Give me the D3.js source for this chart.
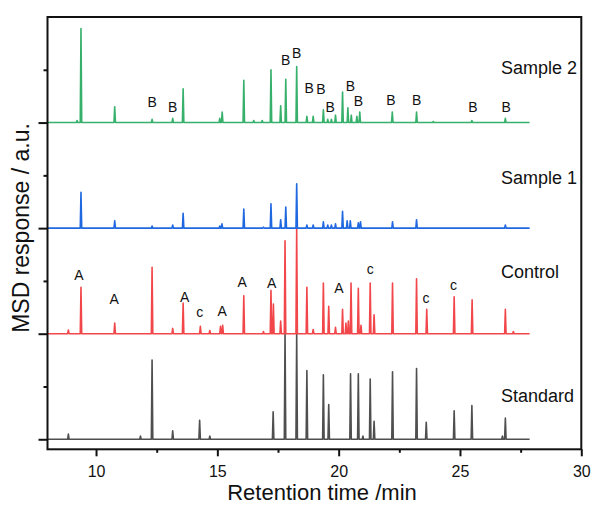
<!DOCTYPE html>
<html>
<head>
<meta charset="utf-8">
<script src="https://cdn.jsdelivr.net/npm/d3@7"></script>
<style>
  body { margin: 0; background: #fff; }
  svg text { font-family: Arial, "Liberation Sans", sans-serif; fill: #111; }
  .trace { fill: none; stroke-width: 1.6; stroke-linejoin: round; }
  .axis path, .axis line { stroke: #111; stroke-width: 2; }
</style>
</head>
<body>
<svg></svg>
<script>
// DATA: peaks as [retention time (min), height above the trace baseline]
let traceNames = ["Standard", "Control", "Sample 1", "Sample 2"];
let traceOffsets = [0, 1, 2, 3];
let traceColors = ["#4f4f4f", "#f2474a", "#2068e0", "#37b06b"];

let standardPeaks = [
  [8.86, 0.05], [11.83, 0.03], [12.31, 0.75], [13.16, 0.08], [14.27, 0.18], [14.69, 0.03],
  [17.30, 0.26], [17.79, 1.0], [18.27, 1.0], [18.69, 0.65], [19.37, 0.61], [19.59, 0.33],
  [20.49, 0.62], [20.81, 0.62], [21.00, 0.03], [21.30, 0.57], [21.46, 0.17], [22.22, 0.64],
  [23.21, 0.67], [23.61, 0.16], [24.76, 0.27], [25.49, 0.32], [26.75, 0.03], [26.87, 0.20]
];
let controlPeaks = [
  [8.86, 0.035], [9.38, 0.44], [10.77, 0.10], [12.31, 0.63], [13.16, 0.05], [13.59, 0.29],
  [14.30, 0.07], [14.69, 0.03], [15.13, 0.07], [15.22, 0.08], [16.09, 0.36], [16.90, 0.02],
  [17.21, 0.41], [17.31, 0.28], [17.61, 0.12], [17.79, 0.88], [18.27, 1.0], [18.69, 0.44],
  [18.95, 0.04], [19.37, 0.48], [19.59, 0.26], [19.87, 0.06], [20.16, 0.23], [20.30, 0.10],
  [20.40, 0.12], [20.51, 0.48], [20.81, 0.43], [20.92, 0.08], [21.30, 0.48], [21.46, 0.18],
  [22.22, 0.48], [23.21, 0.52], [23.63, 0.23], [24.76, 0.35], [25.50, 0.32], [26.87, 0.23],
  [27.20, 0.02]
];
let sample1Peaks = [
  [9.38, 0.34], [10.77, 0.07], [12.31, 0.02], [13.16, 0.03], [13.59, 0.14], [15.10, 0.02],
  [15.19, 0.04], [16.09, 0.18], [16.90, 0.01], [17.21, 0.23], [17.61, 0.08], [17.82, 0.20],
  [18.27, 0.42], [18.69, 0.03], [18.95, 0.03], [19.37, 0.06], [19.55, 0.03], [19.70, 0.03],
  [19.87, 0.04], [20.16, 0.16], [20.35, 0.07], [20.48, 0.07], [20.81, 0.05], [20.90, 0.06],
  [22.22, 0.06], [23.21, 0.08], [26.87, 0.03]
];
let sample2Peaks = [
  [9.22, 0.02], [9.38, 0.89], [10.77, 0.15], [12.31, 0.03], [13.16, 0.04], [13.59, 0.32],
  [15.10, 0.04], [15.20, 0.10], [16.09, 0.40], [16.50, 0.02], [16.85, 0.02], [17.21, 0.50],
  [17.61, 0.16], [17.82, 0.41], [18.27, 0.53], [18.69, 0.06], [18.95, 0.06], [19.37, 0.12],
  [19.55, 0.03], [19.70, 0.03], [19.87, 0.07], [20.16, 0.29], [20.38, 0.14], [20.52, 0.07],
  [20.75, 0.06], [20.87, 0.10], [22.21, 0.10], [23.21, 0.10], [23.90, 0.01], [25.49, 0.02],
  [26.87, 0.04]
];

// peak labels: [letter, time, height above the trace baseline]
let controlLabels = [
  ["A", 9.29, 0.505], ["A", 10.75, 0.277], ["A", 13.65, 0.30], ["c", 14.27, 0.16],
  ["A", 15.20, 0.164], ["A", 16.02, 0.44], ["A", 17.24, 0.43], ["A", 20.01, 0.39],
  ["c", 21.30, 0.57], ["c", 23.60, 0.29], ["c", 24.73, 0.41]
];
let sample2Labels = [
  ["B", 12.31, 0.149], ["B", 13.16, 0.096], ["B", 17.82, 0.55], ["B", 18.27, 0.61],
  ["B", 18.78, 0.28], ["B", 19.27, 0.27], ["B", 19.65, 0.10], ["B", 20.48, 0.30],
  ["B", 20.81, 0.16], ["B", 22.15, 0.165], ["B", 23.21, 0.165], ["B", 25.53, 0.10],
  ["B", 26.90, 0.10]
];

let xTicks = [10, 15, 20, 25, 30];
let xMinorTicks = [12.5, 17.5, 22.5, 27.5];
let yTicks = [0, 1, 2, 3];
let yMinorTicks = [0.5, 1.5, 2.5, 3.5];
let runStart = 8, runEnd = 27.87;

let allPeaks = [standardPeaks, controlPeaks, sample1Peaks, sample2Peaks];

// SETUP
let width = 594, height = 506;
let plotLeft = 47.5, plotRight = 581.3, plotTop = 17, plotBottom = 449.3;

let svg = d3.select("svg").attr("width", width).attr("height", height);

let x = d3.scaleLinear().domain([8, 30]).range([plotLeft, plotRight]);
let y = d3.scaleLinear().domain([-0.095, 4.0]).range([plotBottom, plotTop]);

let halfWidth = 0.03;

function peakPoints(peaks){
  let pts = [[runStart, 0]];
  peaks.forEach(function(p){
    pts.push([p[0] - halfWidth, 0], [p[0], p[1]], [p[0] + halfWidth, 0]);
  });
  pts.push([runEnd, 0]);
  return pts;
}

// traces
allPeaks.forEach(function(peaks, i){
  let off = traceOffsets[i];
  let line = d3.line()
    .x(d => x(d[0]))
    .y(d => y(off + d[1]));
  svg.append("path")
    .attr("class", "trace")
    .attr("stroke", traceColors[i])
    .attr("d", line(peakPoints(peaks)));
});

// trace names
svg.selectAll(".trace-name")
  .data(traceNames)
  .enter()
  .append("text")
  .attr("class", "trace-name")
  .attr("x", x(26.69))
  .attr("y", (d, i) => [401.7, 278.3, 184, 74][i])
  .attr("font-size", 18)
  .text(d => d);

// peak letters
function drawLabels(labels, off){
  svg.selectAll(null)
    .data(labels)
    .enter()
    .append("text")
    .attr("x", d => x(d[1]))
    .attr("y", d => y(off + d[2]))
    .attr("text-anchor", "middle")
    .attr("font-size", 14)
    .text(d => d[0]);
}
drawLabels(controlLabels, 1);
drawLabels(sample2Labels, 3);

// axes
svg.append("g")
  .attr("class", "axis")
  .attr("transform", `translate(0,${plotBottom})`)
  .call(d3.axisBottom(x).tickValues(xTicks).tickSize(7).tickSizeOuter(0).tickPadding(9))
  .call(g => g.selectAll("text").attr("font-size", 16).attr("fill", "#111"))
  .call(g => g.select(".domain").remove());

svg.append("g")
  .attr("class", "axis")
  .attr("transform", `translate(0,${plotBottom})`)
  .call(d3.axisBottom(x).tickValues(xMinorTicks).tickSize(3.5).tickFormat(""))
  .call(g => g.select(".domain").remove());

svg.append("g")
  .attr("class", "axis")
  .attr("transform", `translate(${plotLeft},0)`)
  .call(d3.axisLeft(y).tickValues(yTicks).tickSize(9).tickFormat(""))
  .call(g => g.select(".domain").remove());

svg.append("g")
  .attr("class", "axis")
  .attr("transform", `translate(${plotLeft},0)`)
  .call(d3.axisLeft(y).tickValues(yMinorTicks).tickSize(4).tickFormat(""))
  .call(g => g.select(".domain").remove());

// frame
svg.append("rect")
  .attr("x", plotLeft)
  .attr("y", plotTop)
  .attr("width", plotRight - plotLeft)
  .attr("height", plotBottom - plotTop)
  .attr("fill", "none")
  .attr("stroke", "#111")
  .attr("stroke-width", 2);

// axis titles
svg.append("text")
  .attr("x", 322)
  .attr("y", 500)
  .attr("text-anchor", "middle")
  .attr("font-size", 22)
  .text("Retention time /min");

svg.append("text")
  .attr("transform", `translate(29,228) rotate(-90)`)
  .attr("text-anchor", "middle")
  .attr("font-size", 23)
  .text("MSD response / a.u.");
</script>
</body>
</html>
